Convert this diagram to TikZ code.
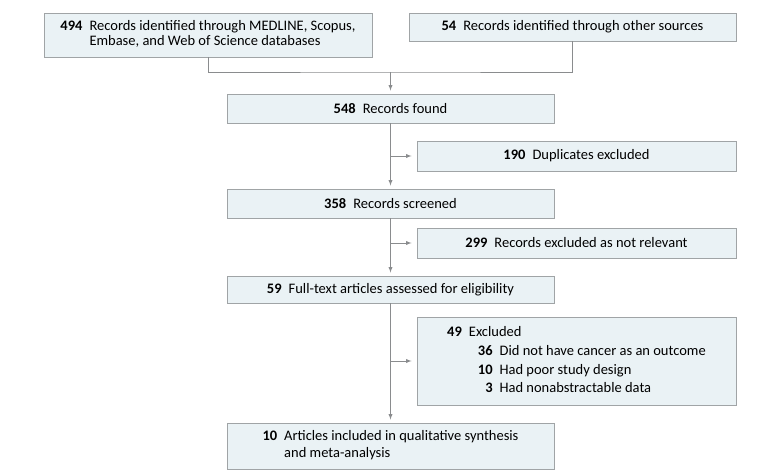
\documentclass[tikz,border=0pt]{standalone}
\usepackage{fontspec}
\setmainfont{Carlito}
\usepackage{tikz}
\usetikzlibrary{calc, positioning}

\definecolor{boxfill}{HTML}{EAF2F5}
\definecolor{boxline}{HTML}{A0A4A6}
\definecolor{linkgray}{HTML}{8A8C8E}
\newcommand{\numgap}{\hspace{7pt}}

\tikzset{
  flowbox/.style={draw=boxline, fill=boxfill, line width=0.9pt, inner sep=0pt,
    minimum height=29, align=center, font=\fontsize{14.5}{15.5}\selectfont},
  mainbox/.style={flowbox, minimum width=327},
  sidebox/.style={flowbox, minimum width=319},
  link/.style={draw=linkgray, line width=0.9pt},
}

\begin{document}
\begin{tikzpicture}[x=1pt, y=-1pt, >=latex]
  \useasboundingbox (0,0) rectangle (780,472);
  % sources
  \node (dbs) at (208,35) [flowbox, minimum width=328, minimum height=44]
    {\begin{tabular}{@{}r@{\numgap}l@{}}
      \textbf{494} & Records identified through MEDLINE, Scopus,\\
                   & Embase, and Web of Science databases
     \end{tabular}};
  \node (other) at (572.5,27) [mainbox, minimum height=28] {\textbf{54}\numgap Records identified through other sources};
  % main column
  \node (found) at (390.5,108.5) [mainbox] {\textbf{548}\numgap Records found};
  \node (screened) at (390.5,203.5) [mainbox] {\textbf{358}\numgap Records screened};
  \node (fulltext) at (390.5,289.5) [mainbox, minimum height=27] {\textbf{59}\numgap Full-text articles assessed for eligibility};
  \node (included) at (390.5,446) [mainbox, minimum height=46]
    {\renewcommand{\arraystretch}{1.1}%
     \begin{tabular}{@{}r@{\numgap}l@{}}
      \textbf{10} & Articles included in qualitative synthesis\\
                  & and meta-analysis
     \end{tabular}};
  % exclusions
  \node (dupl) at (576.5,156) [sidebox, minimum height=30] {\textbf{190}\numgap Duplicates excluded};
  \node (notrel) at (576.5,243) [sidebox, minimum height=30] {\textbf{299}\numgap Records excluded as not relevant};
  \node (excl) at (576.5,361) [sidebox, minimum height=88]
    {\renewcommand{\arraystretch}{1.2}%
     \begin{tabular}{@{}r@{\numgap}l@{}}
      \textbf{49} & Excluded\\
                  & \hspace{9pt}\begin{tabular}[t]{@{}r@{\numgap}l@{}}
                      \textbf{36} & Did not have cancer as an outcome\\
                      \textbf{10} & Had poor study design\\
                      \textbf{3} & Had nonabstractable data
                    \end{tabular}
     \end{tabular}};
  % connectors
  \coordinate (merge) at (390.5,72);
  \draw [link] (dbs.south) |- (merge) -| (other.south);
  \draw [link, ->, shorten >=3pt] (merge) -- (found.north);
  \draw [link, ->, shorten >=3pt] (found.south) -- (screened.north);
  \draw [link, ->, shorten >=3pt] (screened.south) -- (fulltext.north);
  \draw [link, ->, shorten >=3pt] (fulltext.south) -- (included.north);
  \draw [link, ->, shorten >=5pt] (found.south |- dupl.west) -- (dupl.west);
  \draw [link, ->, shorten >=5pt] (screened.south |- notrel.west) -- (notrel.west);
  \draw [link, ->, shorten >=5pt] (fulltext.south |- excl.west) -- (excl.west);
\end{tikzpicture}
\end{document}
